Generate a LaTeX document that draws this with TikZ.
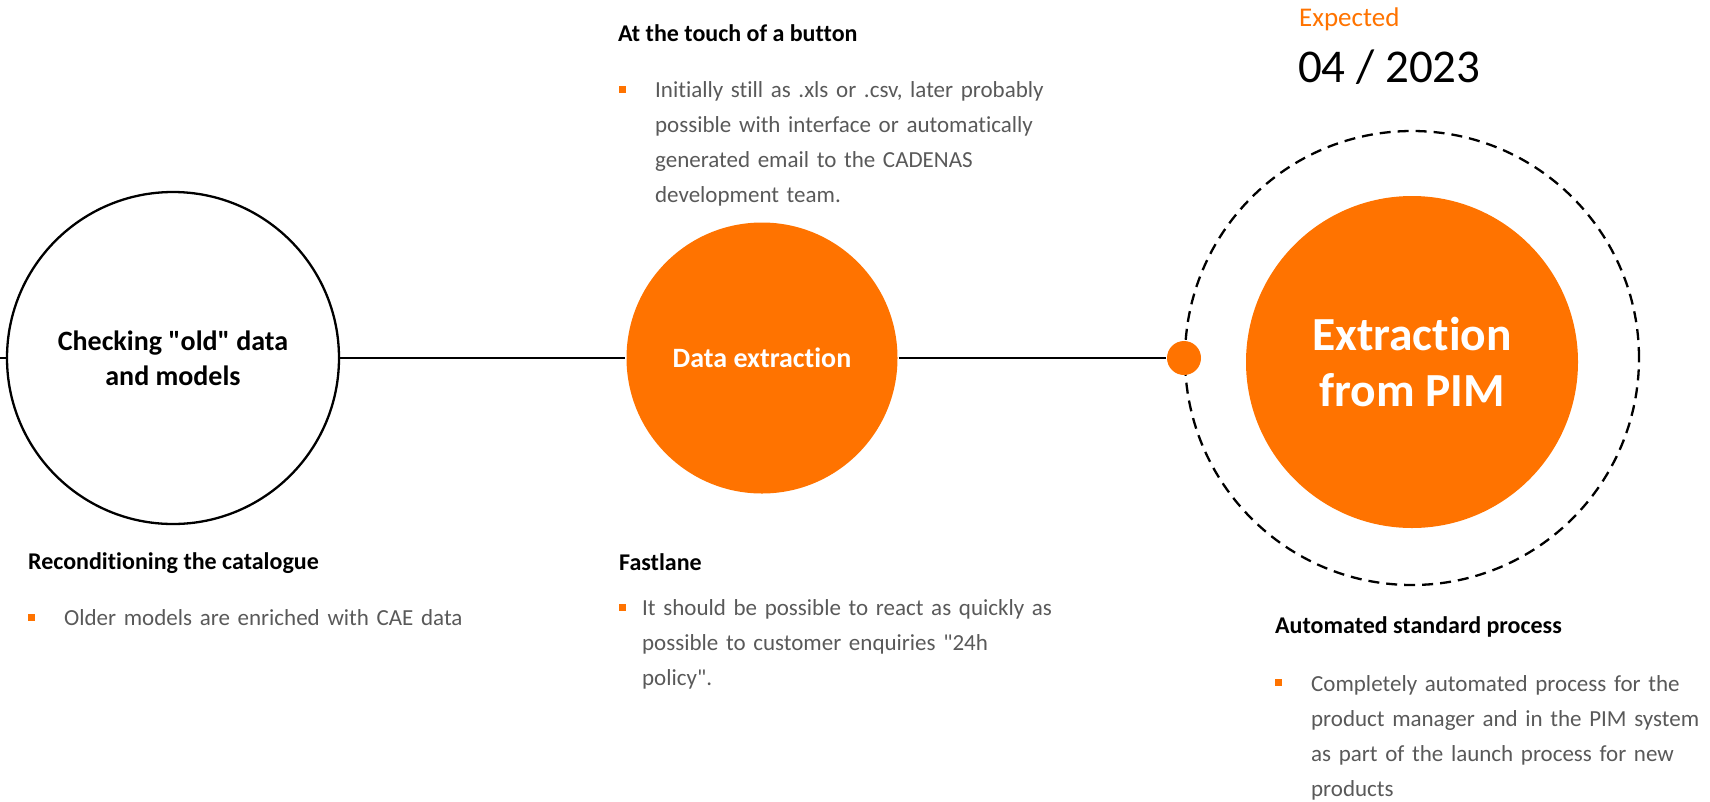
\documentclass[tikz,border=0pt]{standalone}
\usepackage{fontspec}
\setmainfont{Carlito}[Ligatures={TeXOff,NoCommon}]
\usetikzlibrary{positioning}
\definecolor{cadorange}{HTML}{FF7300}
\definecolor{bodygrey}{HTML}{595959}
\tikzset{stage/.style={circle, inner sep=0pt, align=center, font=\bfseries\fontsize{28}{35}\selectfont},
heading/.style={anchor=base west, inner sep=0pt, font=\bfseries\fontsize{24}{28}\selectfont},
bodytext/.style={anchor=base west, inner sep=0pt, align=left, text width=#1, text=bodygrey, font=\fontsize{23}{35}\selectfont},
bodytext/.default={420pt},
%small orange square in front of each point
sqbullet/.style={fill=cadorange, minimum size=7pt, inner sep=0pt}}

\begin{document}
\begin{tikzpicture}[x=1pt, y=-1pt, line width=2.3pt]
\useasboundingbox (0,0) rectangle (1710,801);

% stages along the line
\coordinate (start) at (0,358);
\node[stage, draw, fill=white, minimum size=332pt] (check) at (173,358) {Checking "old" data\\and models};
\node[stage, fill=cadorange, text=white, minimum size=271pt] (extract) at (762,358) {Data extraction};
\node[circle, draw, dash pattern=on 11pt off 7pt, minimum size=454pt] (ring) at (1412,358) {};
\node[stage, fill=cadorange, text=white, minimum size=332pt, font=\bfseries\fontsize{47.5}{56}\selectfont] (pim) at (1412,362) {Extraction\\from PIM};
\node[circle, fill=cadorange, minimum size=34pt, inner sep=0pt] (dot) at (1184,358) {};

\draw (start) -- (check) -- (extract) -- (dot);

% date
\node[anchor=base west, inner sep=0pt, text=cadorange, font=\fontsize{27}{30}\selectfont] (expected) at (1298,26) {Expected};
\node[anchor=base west, inner sep=0pt, font=\fontsize{47}{50}\selectfont] (date) at (1297,82) {04 / 2023};

% texts
\node[heading] (recond) at (27,569) {Reconditioning the catalogue};
\node[sqbullet] (b1) at (31.5,617) {};
\node[bodytext] (older) at (63,625) {Older models are enriched with CAE data};

\node[heading] (touch) at (617,41) {At the touch of a button};
\node[sqbullet] (b2) at (622.5,89) {};
\node[bodytext] (initially) at (654,97) {Initially still as .xls or .csv, later probably\\possible with interface or automatically\\generated email to the CADENAS\\development team.};

\node[heading] (fast) at (618,570) {Fastlane};
\node[sqbullet] (b3) at (622.5,607) {};
\node[bodytext] (react) at (641,615) {It should be possible to react as quickly as\\possible to customer enquiries "24h\\policy".};

\node[heading] (auto) at (1274,633) {Automated standard process};
\node[sqbullet] (b4) at (1278.5,682) {};
\node[bodytext=400pt] (complete) at (1310,691) {Completely automated process for the\\product manager and in the PIM system\\as part of the launch process for new\\products};

\end{tikzpicture}
\end{document}
